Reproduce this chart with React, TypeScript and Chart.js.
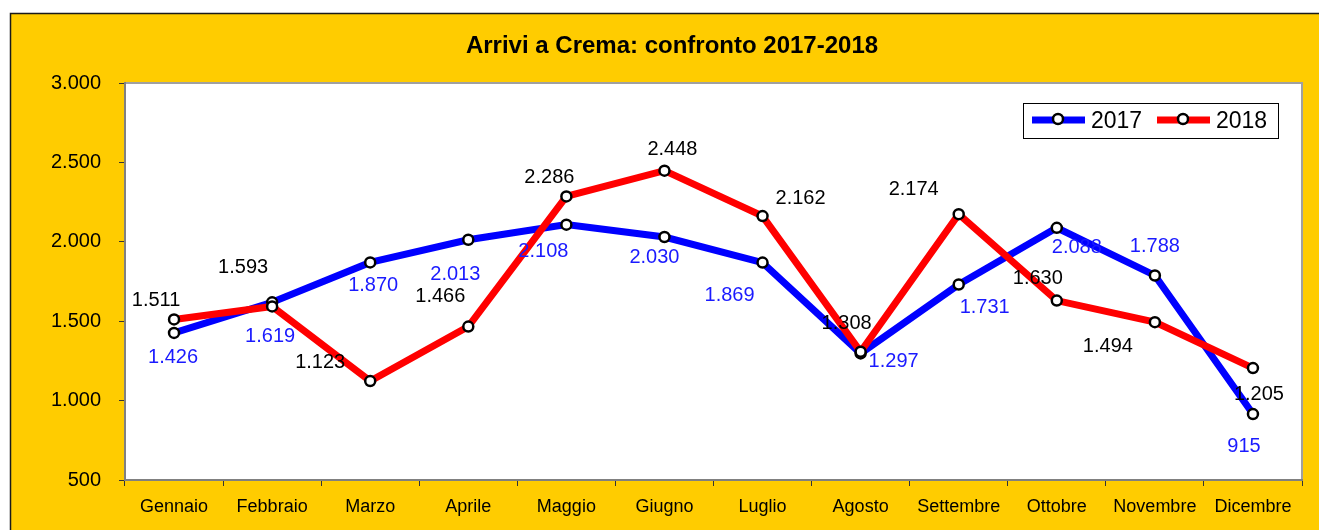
import React, { useEffect, useRef } from "react";
import { Chart, registerables } from "chart.js";

Chart.register(...registerables);

const months = [
  "Gennaio", "Febbraio", "Marzo", "Aprile", "Maggio", "Giugno",
  "Luglio", "Agosto", "Settembre", "Ottobre", "Novembre", "Dicembre",
];
const arrivals2017 = [1426, 1619, 1870, 2013, 2108, 2030, 1869, 1297, 1731, 2088, 1788, 915];
const arrivals2018 = [1511, 1593, 1123, 1466, 2286, 2448, 2162, 1308, 2174, 1630, 1494, 1205];
const yTicks = [500, 1000, 1500, 2000, 2500, 3000];
const seriesNames = ["2017", "2018"];
const titleText = "Arrivi a Crema: confronto 2017-2018";

// label placement (dx, dy) relative to each point
const labelOffsets2017 = [
  [-1, 24], [-2, 33], [3, 22], [-13, 34], [-23, 26], [-10, 19],
  [-33, 32], [33, 7], [26, 22], [20, 19], [0, -30], [-9, 31],
];
const labelOffsets2018 = [
  [-18, -20], [-29, -40], [-50, -20], [-28, -31], [-17, -20], [8, -22],
  [38, -19], [-14, -29], [-45, -26], [-19, -23], [-47, 23], [6, 25],
];

const FONT = "Arial, 'Liberation Sans', sans-serif";
const YELLOW = "#FFCC00";
const BLUE = "#0000FF";
const RED = "#FF0000";
const LABEL_BLUE = "#1a1aff";

function fmt(n: number): string {
  return String(Math.round(n)).replace(/\B(?=(\d{3})+(?!\d))/g, ".");
}

const framePlugin = {
  id: "frame",
  beforeDraw(chart: any) {
    const { ctx, width, height, chartArea } = chart;
    ctx.save();
    ctx.fillStyle = "#ffffff";
    ctx.fillRect(0, 0, width, height);
    ctx.fillStyle = YELLOW;
    ctx.fillRect(10, 13, width - 10, height - 13);
    ctx.strokeStyle = "#1a1a1a";
    ctx.lineWidth = 1.5;
    ctx.beginPath();
    ctx.moveTo(10.5, height);
    ctx.lineTo(10.5, 13.5);
    ctx.lineTo(width, 13.5);
    ctx.stroke();
    // plot area
    const { left, top, right, bottom } = chartArea;
    ctx.fillStyle = "#ffffff";
    ctx.fillRect(left, top, right - left, bottom - top);
    ctx.strokeStyle = "#a0a0a0";
    ctx.lineWidth = 2;
    ctx.beginPath();
    ctx.moveTo(left, top);
    ctx.lineTo(right, top);
    ctx.lineTo(right, bottom);
    ctx.stroke();
    ctx.restore();
  },
};

const labelsPlugin = {
  id: "valueLabels",
  afterDatasetsDraw(chart: any) {
    const { ctx } = chart;
    ctx.save();
    ctx.font = `20px ${FONT}`;
    ctx.textAlign = "center";
    ctx.textBaseline = "middle";
    const sets = [
      { idx: 0, offs: labelOffsets2017, color: LABEL_BLUE },
      { idx: 1, offs: labelOffsets2018, color: "#000000" },
    ];
    sets.forEach(({ idx, offs, color }) => {
      const meta = chart.getDatasetMeta(idx);
      const data = chart.data.datasets[idx].data as number[];
      ctx.fillStyle = color;
      meta.data.forEach((pt: any, i: number) => {
        const [dx, dy] = offs[i];
        ctx.fillText(fmt(data[i]), pt.x + dx, pt.y + dy + 1);
      });
    });
    ctx.restore();
  },
  afterDraw(chart: any) {
    const { ctx } = chart;
    ctx.save();
    // title
    ctx.font = `bold 24px ${FONT}`;
    ctx.fillStyle = "#000000";
    ctx.textAlign = "center";
    ctx.textBaseline = "middle";
    ctx.fillText(titleText, 672, 46);

    // legend
    const bx = 1023, by = 103, bw = 255, bh = 35;
    ctx.fillStyle = "#ffffff";
    ctx.fillRect(bx, by, bw, bh);
    ctx.strokeStyle = "#000000";
    ctx.lineWidth = 1;
    ctx.strokeRect(bx + 0.5, by + 0.5, bw, bh);
    const items = [
      { name: seriesNames[0], color: BLUE, x: 1032 },
      { name: seriesNames[1], color: RED, x: 1157 },
    ];
    const cy = 120;
    items.forEach((it) => {
      ctx.strokeStyle = it.color;
      ctx.lineWidth = 7;
      ctx.beginPath();
      ctx.moveTo(it.x, cy);
      ctx.lineTo(it.x + 53, cy);
      ctx.stroke();
      ctx.beginPath();
      ctx.arc(it.x + 26, cy - 1, 5, 0, Math.PI * 2);
      ctx.fillStyle = "#ffffff";
      ctx.fill();
      ctx.strokeStyle = "#000000";
      ctx.lineWidth = 2.5;
      ctx.stroke();
      ctx.fillStyle = "#000000";
      ctx.font = `23px ${FONT}`;
      ctx.textAlign = "left";
      ctx.textBaseline = "middle";
      ctx.fillText(it.name, it.x + 59, cy + 2);
    });
    ctx.restore();
  },
};

export default function App() {
  const ref = useRef<HTMLCanvasElement | null>(null);

  useEffect(() => {
    if (!ref.current) return;
    const chart = new Chart(ref.current, {
      type: "line",
      data: {
        labels: months,
        datasets: [
          {
            label: seriesNames[0],
            data: arrivals2017,
            borderColor: BLUE,
            borderWidth: 7,
            pointRadius: 5,
            pointBorderWidth: 2.5,
            pointBackgroundColor: "#ffffff",
            pointBorderColor: "#000000",
            tension: 0,
            order: 1,
            clip: false as any,
          },
          {
            label: seriesNames[1],
            data: arrivals2018,
            borderColor: RED,
            borderWidth: 7,
            pointRadius: 5,
            pointBorderWidth: 2.5,
            pointBackgroundColor: "#ffffff",
            pointBorderColor: "#000000",
            tension: 0,
            order: 0,
            clip: false as any,
          },
        ],
      },
      options: {
        responsive: false,
        animation: false,
        devicePixelRatio: 1,
        layout: { padding: { left: 0, right: 17, top: 83, bottom: 0 } },
        plugins: {
          legend: { display: false },
          title: { display: false },
          tooltip: { enabled: false },
        },
        scales: {
          x: {
            type: "category",
            offset: true,
            grid: {
              offset: true,
              drawOnChartArea: false,
              drawTicks: true,
              tickLength: 6,
              color: "#333333",
              lineWidth: 1,
            },
            border: { display: true, color: "#808080", width: 2 },
            ticks: {
              color: "#000000",
              font: { family: FONT, size: 18 },
              padding: 10,
              maxRotation: 0,
              autoSkip: false,
            },
            afterFit(scale: any) {
              scale.height = 50;
            },
          },
          y: {
            min: 500,
            max: 3000,
            grid: {
              drawOnChartArea: false,
              drawTicks: true,
              tickLength: 6,
              color: "#333333",
              lineWidth: 1,
            },
            border: { display: true, color: "#808080", width: 2 },
            ticks: {
              color: "#000000",
              font: { family: FONT, size: 20 },
              padding: 18,
              callback: (v: any) => fmt(Number(v)),
            },
            afterBuildTicks(scale: any) {
              scale.ticks = yTicks.map((v) => ({ value: v }));
            },
            afterFit(scale: any) {
              scale.width = 125;
            },
          },
        },
      },
      plugins: [framePlugin, labelsPlugin],
    });
    return () => chart.destroy();
  }, []);

  return (
    <div style={{ position: "fixed", left: 0, top: 0, width: 1319, height: 530 }}>
      <canvas ref={ref} width={1319} height={530} style={{ display: "block" }} />
    </div>
  );
}
